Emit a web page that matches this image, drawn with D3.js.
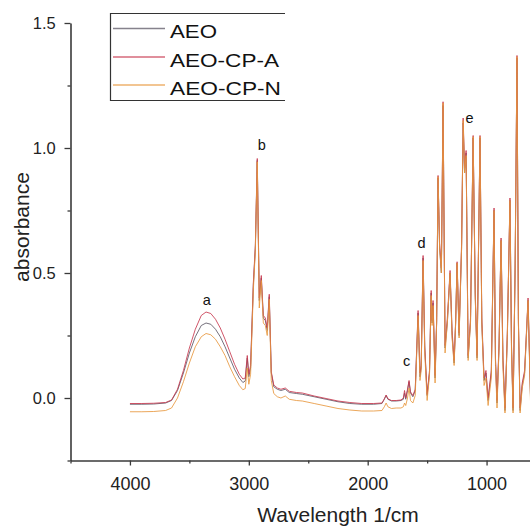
<!DOCTYPE html>
<html>
<head>
<meta charset="utf-8">
<script src="https://cdn.jsdelivr.net/npm/d3@7/dist/d3.min.js"></script>
<style>
  html, body { margin: 0; padding: 0; background: #fff; }
  svg { display: block; }
  text { font-family: "Liberation Sans", Arial, sans-serif; }
</style>
</head>
<body>
<svg id="chart" width="530" height="529"></svg>
<script>
// ---- Data ----
const seriesNames = ["AEO", "AEO-CP-A", "AEO-CP-N"];
const seriesColors = ["#5e5866", "#c8384f", "#e8983e"];

const wavenumbers = [
  4000, 3900, 3800, 3700, 3650, 3600, 3550, 3500, 3450, 3400, 3360, 3320, 3280, 3240, 3200, 3160, 3120, 3080, 3050, 3030,
  3013, 3000, 2985, 2962, 2945, 2929, 2912, 2895, 2878, 2861, 2845, 2828, 2811, 2790, 2760, 2730, 2693, 2660, 2600, 2550,
  2450, 2350, 2250, 2150, 2050, 1950, 1880, 1860, 1845, 1830, 1800, 1760, 1720, 1700, 1690, 1680, 1665, 1652, 1640, 1620,
  1600, 1576, 1560, 1550, 1534, 1520, 1500, 1480, 1466, 1458, 1450, 1433, 1420, 1408, 1395, 1380, 1366, 1349, 1330, 1307,
  1290, 1273, 1260, 1248, 1231, 1210, 1197, 1185, 1172, 1155, 1135, 1113, 1095, 1080, 1055, 1040, 1021, 1005, 987, 960,
  937, 925, 912, 895, 878, 862, 845, 825, 803, 790, 777, 760, 744, 732, 718, 700, 680, 651, 630, 600
];

const aeo = [
  -0.025, -0.025, -0.024, -0.020, -0.010, 0.030, 0.100, 0.180, 0.245, 0.290, 0.300, 0.295, 0.275, 0.245, 0.205, 0.160, 0.115, 0.080, 0.062, 0.068,
  0.160, 0.085, 0.120, 0.450, 0.600, 0.950, 0.390, 0.480, 0.320, 0.310, 0.270, 0.405, 0.100, 0.045, 0.035, 0.030, 0.035, 0.022, 0.018, 0.015,
  0.005, -0.005, -0.015, -0.022, -0.025, -0.025, -0.022, -0.005, 0.010, -0.005, -0.012, -0.012, -0.010, -0.005, 0.020, -0.005, 0.030, 0.065, 0.020, 0.005,
  0.030, 0.340, 0.085, 0.120, 0.560, 0.200, 0.010, 0.100, 0.420, 0.300, 0.380, 0.080, 0.300, 0.880, 0.600, 0.500, 1.170, 0.200, 0.300, 0.500,
  0.250, 0.140, 0.300, 0.540, 0.250, 0.600, 1.100, 0.900, 0.980, 0.160, 0.300, 1.040, 0.400, 0.160, 1.040, 0.300, 0.070, 0.100, -0.010, 0.100,
  0.750, 0.150, -0.020, 0.200, 0.630, 0.150, -0.050, 0.250, 0.790, 0.200, -0.050, 0.500, 1.360, 0.300, -0.050, 0.050, 0.100, 0.390, 0.000, 0.200
];

const aeoCpA = [
  -0.022, -0.022, -0.021, -0.018, -0.008, 0.035, 0.110, 0.200, 0.275, 0.330, 0.344, 0.338, 0.315, 0.280, 0.235, 0.185, 0.135, 0.095, 0.076, 0.080,
  0.170, 0.095, 0.130, 0.460, 0.610, 0.958, 0.400, 0.490, 0.330, 0.320, 0.280, 0.415, 0.105, 0.052, 0.040, 0.035, 0.040, 0.027, 0.022, 0.020,
  0.008, -0.002, -0.012, -0.018, -0.022, -0.022, -0.020, -0.003, 0.012, -0.003, -0.010, -0.010, -0.008, 0.000, 0.030, 0.000, 0.035, 0.070, 0.025, 0.010,
  0.035, 0.350, 0.100, 0.130, 0.570, 0.210, 0.015, 0.110, 0.430, 0.310, 0.390, 0.090, 0.310, 0.890, 0.620, 0.520, 1.185, 0.210, 0.320, 0.510,
  0.270, 0.150, 0.310, 0.545, 0.260, 0.620, 1.120, 0.920, 0.990, 0.170, 0.320, 1.050, 0.420, 0.170, 1.050, 0.320, 0.080, 0.110, 0.000, 0.110,
  0.760, 0.160, -0.010, 0.220, 0.640, 0.160, -0.040, 0.270, 0.800, 0.210, -0.040, 0.520, 1.370, 0.320, -0.040, 0.060, 0.110, 0.400, 0.010, 0.200
];

const aeoCpN = [
  -0.055, -0.055, -0.054, -0.050, -0.040, 0.000, 0.065, 0.140, 0.205, 0.245, 0.258, 0.253, 0.235, 0.205, 0.170, 0.125, 0.085, 0.050, 0.033, 0.038,
  0.120, 0.055, 0.095, 0.430, 0.590, 0.945, 0.360, 0.470, 0.300, 0.290, 0.250, 0.395, 0.070, 0.018, 0.005, 0.000, 0.008, -0.005, -0.010, -0.012,
  -0.022, -0.032, -0.042, -0.048, -0.052, -0.052, -0.050, -0.035, -0.020, -0.035, -0.042, -0.040, -0.040, -0.035, -0.020, -0.030, 0.000, 0.040, -0.010, -0.020,
  0.010, 0.330, 0.070, 0.110, 0.550, 0.180, -0.010, 0.090, 0.410, 0.290, 0.370, 0.060, 0.300, 0.885, 0.600, 0.500, 1.180, 0.180, 0.300, 0.500,
  0.240, 0.130, 0.300, 0.540, 0.240, 0.600, 1.110, 0.900, 0.970, 0.150, 0.300, 1.045, 0.400, 0.150, 1.045, 0.300, 0.050, 0.080, -0.030, 0.080,
  0.750, 0.130, -0.040, 0.200, 0.630, 0.120, -0.060, 0.250, 0.790, 0.180, -0.060, 0.500, 1.365, 0.300, -0.060, 0.040, 0.090, 0.390, -0.020, 0.200
];

const xMajorTicks = [4000, 3000, 2000, 1000];
const xMinorTicks = [4500, 3500, 2500, 1500, 500];
const yMajorTicks = [0.0, 0.5, 1.0, 1.5];
const yMinorTicks = [-0.25, 0.25, 0.75, 1.25];

const peakLabels = ["a", "b", "c", "d", "e"];
const peakWavenumbers = [3353, 2891, 1672, 1546, 1143];
const peakHeights = [0.372, 0.992, 0.128, 0.60, 1.10];

// ---- Layout ----
const svg = d3.select("#chart");
const plot = { left: 70.5, right: 546, top: 23, bottom: 460.5 };

const x = d3.scaleLinear().domain([4500, 500]).range([plot.left, plot.right]);
const y = d3.scaleLinear().domain([-0.25, 1.5]).range([plot.bottom, plot.top]);

svg.append("defs").append("clipPath").attr("id", "clip")
  .append("rect")
  .attr("x", plot.left).attr("y", plot.top - 5)
  .attr("width", plot.right - plot.left).attr("height", plot.bottom - plot.top + 5);

// ---- Lines ----
const seriesValues = [aeo, aeoCpA, aeoCpN];
const line = d3.line().x(d => x(d[0])).y(d => y(d[1]));
const lineG = svg.append("g").attr("clip-path", "url(#clip)");
seriesValues.forEach((vals, i) => {
  const pts = wavenumbers.map((w, j) => [w, vals[j]]);
  lineG.append("path")
    .datum(pts)
    .attr("fill", "none")
    .attr("stroke", seriesColors[i])
    .attr("stroke-width", 1)
    .attr("stroke-opacity", 0.85)
    .attr("d", line);
});

// ---- Axes ----
const axisColor = "#3a3a3a";
const textColor = "#222";

const xAxis = svg.append("g").attr("transform", `translate(0,${plot.bottom})`)
  .call(d3.axisBottom(x).tickValues(xMajorTicks).tickFormat(d3.format("d")).tickSize(5).tickSizeOuter(0));
const xMinor = svg.append("g").attr("transform", `translate(0,${plot.bottom})`)
  .call(d3.axisBottom(x).tickValues(xMinorTicks).tickFormat("").tickSize(3).tickSizeOuter(0));
xMinor.select(".domain").remove();

const yAxis = svg.append("g").attr("transform", `translate(${plot.left},0)`)
  .call(d3.axisLeft(y).tickValues(yMajorTicks).tickFormat(d3.format(".1f")).tickSize(6).tickSizeOuter(0));
const yMinor = svg.append("g").attr("transform", `translate(${plot.left},0)`)
  .call(d3.axisLeft(y).tickValues(yMinorTicks).tickFormat("").tickSize(3).tickSizeOuter(0));
yMinor.select(".domain").remove();

[xAxis, xMinor, yAxis, yMinor].forEach(g => {
  g.selectAll(".domain").attr("stroke", axisColor).attr("stroke-width", 1.6);
  g.selectAll(".tick line").attr("stroke", axisColor).attr("stroke-width", 1.3);
});
xAxis.selectAll(".tick text")
  .attr("font-size", 18).attr("fill", textColor).attr("y", 17).attr("dy", "0.71em");
yAxis.selectAll(".tick text")
  .attr("font-size", 16.5).attr("fill", textColor).attr("dx", "-0.35em");

// axis titles
svg.append("text")
  .attr("x", 338).attr("y", 522)
  .attr("text-anchor", "middle")
  .attr("font-size", 21).attr("fill", textColor)
  .text("Wavelength 1/cm");

svg.append("text")
  .attr("transform", "translate(29,227) rotate(-90)")
  .attr("text-anchor", "middle")
  .attr("font-size", 21).attr("fill", textColor)
  .text("absorbance");

// peak labels
peakLabels.forEach((lab, i) => {
  svg.append("text")
    .attr("x", x(peakWavenumbers[i]))
    .attr("y", y(peakHeights[i]))
    .attr("text-anchor", "middle")
    .attr("font-family", "'Open Sans', sans-serif")
    .attr("font-size", 14.5).attr("fill", "#111")
    .text(lab);
});

// ---- Legend ----
const lg = svg.append("g");
lg.append("path")
  .attr("d", "M285,13.5 H110.5 V100.5 H285")
  .attr("fill", "none").attr("stroke", "#333").attr("stroke-width", 1.2);
const legendY = [28.5, 57, 85];
const legendTextW = [47, 109, 111];
seriesNames.forEach((name, i) => {
  lg.append("line")
    .attr("x1", 113).attr("x2", 165)
    .attr("y1", legendY[i]).attr("y2", legendY[i])
    .attr("stroke", seriesColors[i]).attr("stroke-width", 1.3).attr("stroke-opacity", 0.75);
  lg.append("text")
    .attr("x", 170).attr("y", legendY[i] + 9.5)
    .attr("font-size", 19).attr("fill", "#111")
    .attr("textLength", legendTextW[i]).attr("lengthAdjust", "spacingAndGlyphs")
    .text(name);
});
</script>
</body>
</html>
